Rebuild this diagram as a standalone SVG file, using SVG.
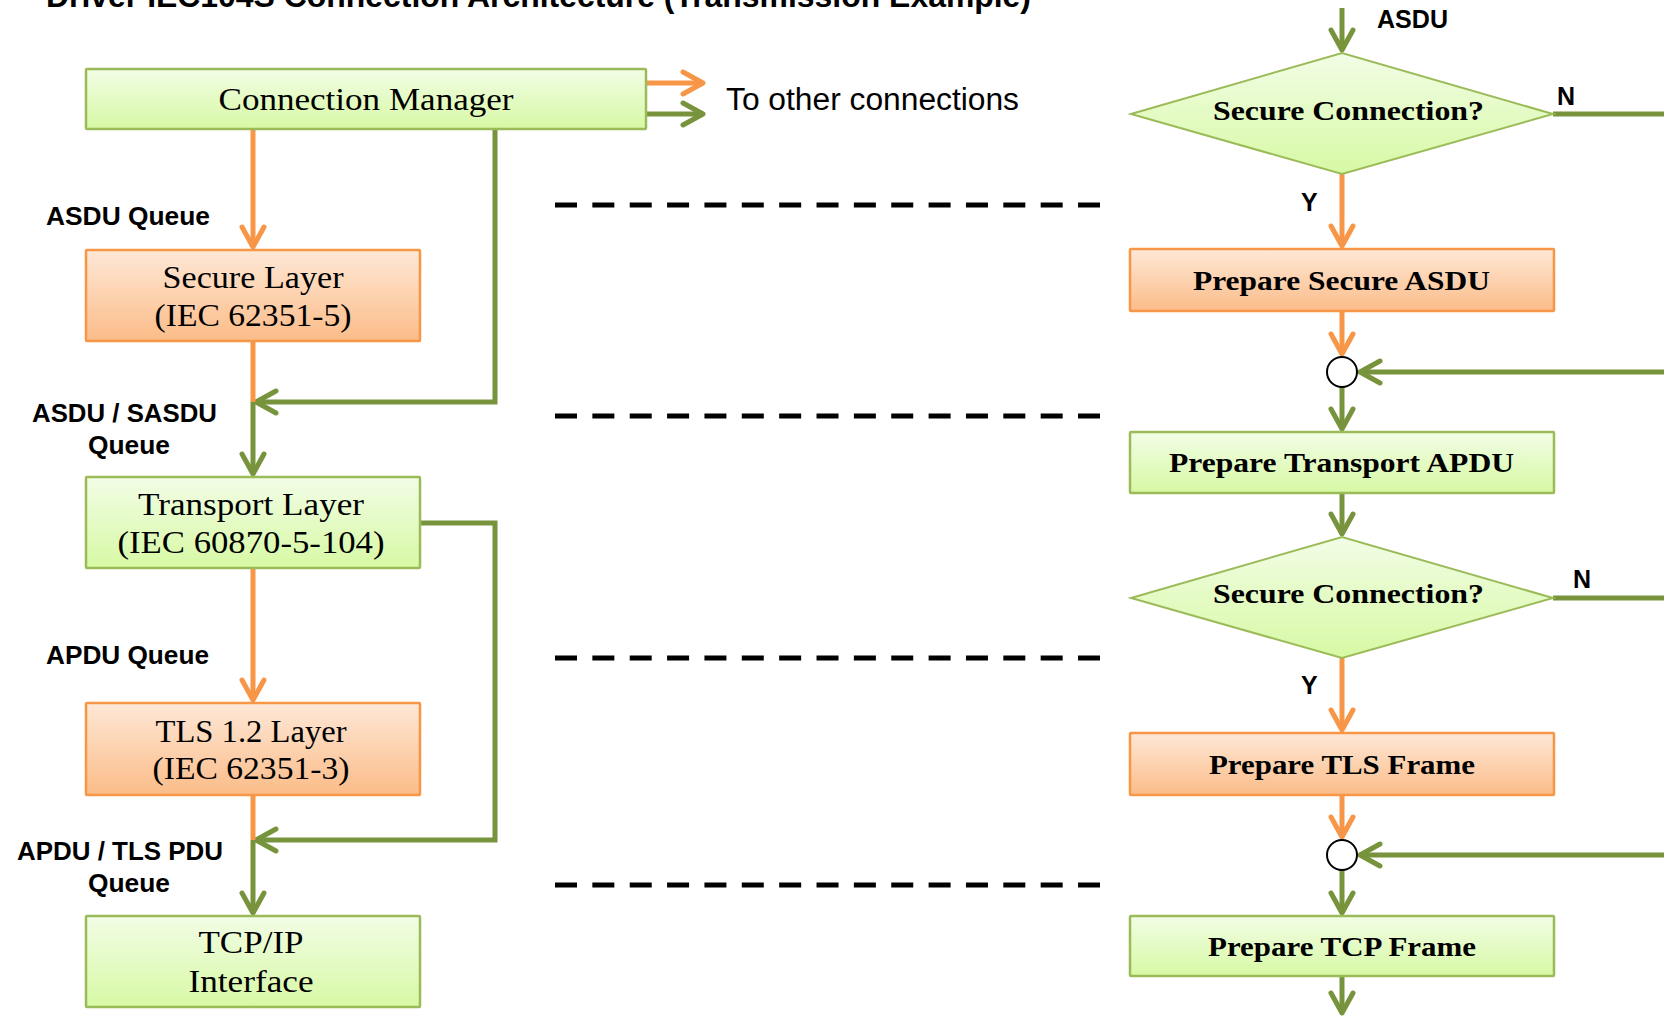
<svg xmlns="http://www.w3.org/2000/svg" width="1664" height="1016" viewBox="0 0 1664 1016">
  <defs>
    <linearGradient id="gGreen" x1="0" y1="0" x2="0" y2="1">
      <stop offset="0" stop-color="#f2fde6"/>
      <stop offset="1" stop-color="#d7f9a4"/>
    </linearGradient>
    <linearGradient id="gOrange" x1="0" y1="0" x2="0" y2="1">
      <stop offset="0" stop-color="#fee8d7"/>
      <stop offset="1" stop-color="#fbbc88"/>
    </linearGradient>
    <marker id="ahO" viewBox="-26 -16 32 32" refX="0" refY="0" markerWidth="32" markerHeight="32" markerUnits="userSpaceOnUse" orient="auto" overflow="visible">
      <path d="M-20,-11 L0,0 L-20,11" fill="none" stroke="#f79646" stroke-width="5" stroke-linecap="round" stroke-linejoin="round"/>
    </marker>
    <marker id="ahG" viewBox="-26 -16 32 32" refX="0" refY="0" markerWidth="32" markerHeight="32" markerUnits="userSpaceOnUse" orient="auto" overflow="visible">
      <path d="M-20,-11 L0,0 L-20,11" fill="none" stroke="#77933c" stroke-width="5" stroke-linecap="round" stroke-linejoin="round"/>
    </marker>
  </defs>
  <style>
    .title { font-family: "Liberation Sans", Arial, sans-serif; font-weight: bold; font-size: 32px; fill: #000; }
    .lbl { font-family: "Liberation Sans", Arial, sans-serif; font-weight: bold; font-size: 25px; fill: #000; }
    .note { font-family: "Liberation Sans", Arial, sans-serif; font-size: 31px; fill: #000; }
    .layer { font-family: "Liberation Serif", "Times New Roman", serif; font-size: 32px; fill: #000; text-anchor: middle; }
    .step { font-family: "Liberation Serif", "Times New Roman", serif; font-weight: bold; font-size: 28px; fill: #000; }
    .boxG { fill: url(#gGreen); stroke: #9bbb59; stroke-width: 2.5; }
    .boxO { fill: url(#gOrange); stroke: #f79646; stroke-width: 2.5; }
    .o { fill: none; stroke: #f79646; stroke-width: 5; stroke-linejoin: miter; }
    .g { fill: none; stroke: #77933c; stroke-width: 5; stroke-linejoin: miter; }
    .ao { marker-end: url(#ahO); }
    .ag { marker-end: url(#ahG); }
    .sep { fill: none; stroke: #000; stroke-width: 5; stroke-dasharray: 22 15.36; }
    .join { fill: #fff; stroke: #000; stroke-width: 2; }
  </style>

  <rect x="0" y="0" width="1664" height="1016" fill="#fff"/>

  <text class="title" x="46" y="7" textLength="985" lengthAdjust="spacingAndGlyphs">Driver IEC104S Connection Architecture (Transmission Example)</text>

  <!-- layer separators -->
  <g id="separators">
    <path class="sep" d="M555,205 H1100"/>
    <path class="sep" d="M555,416 H1100"/>
    <path class="sep" d="M555,658 H1100"/>
    <path class="sep" d="M555,885 H1100"/>
  </g>

  <!-- connectors -->
  <g id="connectors">
    <!-- architecture stack -->
    <path class="o ao" d="M646,83 H703"/>
    <path class="g ag" d="M646,114 H703"/>
    <path class="o ao" d="M253,129 V247"/>
    <path class="g ag" d="M495,129 V402 H256"/>
    <path class="o" d="M253,341 V402"/>
    <path class="g ag" d="M253,402 V474"/>
    <path class="g ag" d="M420,523 H495 V840 H256"/>
    <path class="o ao" d="M253,568 V700"/>
    <path class="o" d="M253,795 V840"/>
    <path class="g ag" d="M253,840 V913"/>
    <!-- transmission flow -->
    <path class="g ag" d="M1342,8 V50"/>
    <path class="g" d="M1553,114 H1664"/>
    <path class="o ao" d="M1342,174 V246"/>
    <path class="o ao" d="M1342,311 V354"/>
    <path class="g ag" d="M1664,372 H1360"/>
    <path class="g ag" d="M1342,387 V429"/>
    <path class="g ag" d="M1342,493 V534"/>
    <path class="g" d="M1553,598 H1664"/>
    <path class="o ao" d="M1342,658 V730"/>
    <path class="o ao" d="M1342,795 V837"/>
    <path class="g ag" d="M1664,855 H1360"/>
    <path class="g ag" d="M1342,870 V913"/>
    <path class="g ag" d="M1342,976 V1013"/>
  </g>

  <!-- architecture nodes -->
  <g id="connection-manager">
    <rect class="boxG" x="86" y="69" width="560" height="60" rx="1"/>
    <text class="layer" x="366" y="110" textLength="295" lengthAdjust="spacingAndGlyphs">Connection Manager</text>
  </g>
  <g id="secure-layer">
    <rect class="boxO" x="86" y="250" width="334" height="91" rx="1"/>
    <text class="layer" x="253" y="288" textLength="181" lengthAdjust="spacingAndGlyphs">Secure Layer</text>
    <text class="layer" x="253" y="326" textLength="197" lengthAdjust="spacingAndGlyphs">(IEC 62351-5)</text>
  </g>
  <g id="transport-layer">
    <rect class="boxG" x="86" y="477" width="334" height="91" rx="1"/>
    <text class="layer" x="251" y="515" textLength="226" lengthAdjust="spacingAndGlyphs">Transport Layer</text>
    <text class="layer" x="251" y="553" textLength="267" lengthAdjust="spacingAndGlyphs">(IEC 60870-5-104)</text>
  </g>
  <g id="tls-layer">
    <rect class="boxO" x="86" y="703" width="334" height="92" rx="1"/>
    <text class="layer" x="251" y="742" textLength="191" lengthAdjust="spacingAndGlyphs">TLS 1.2 Layer</text>
    <text class="layer" x="251" y="779" textLength="197" lengthAdjust="spacingAndGlyphs">(IEC 62351-3)</text>
  </g>
  <g id="tcpip-interface">
    <rect class="boxG" x="86" y="916" width="334" height="91" rx="1"/>
    <text class="layer" x="251" y="953" textLength="105" lengthAdjust="spacingAndGlyphs">TCP/IP</text>
    <text class="layer" x="251" y="992" textLength="125" lengthAdjust="spacingAndGlyphs">Interface</text>
  </g>

  <!-- queue labels -->
  <g id="queue-labels">
    <text class="lbl" x="46" y="225" textLength="164" lengthAdjust="spacingAndGlyphs">ASDU Queue</text>
    <text class="lbl" x="32" y="422" textLength="185" lengthAdjust="spacingAndGlyphs">ASDU / SASDU</text>
    <text class="lbl" x="88" y="454" textLength="82" lengthAdjust="spacingAndGlyphs">Queue</text>
    <text class="lbl" x="46" y="664" textLength="163" lengthAdjust="spacingAndGlyphs">APDU Queue</text>
    <text class="lbl" x="17" y="860" textLength="206" lengthAdjust="spacingAndGlyphs">APDU / TLS PDU</text>
    <text class="lbl" x="88" y="892" textLength="82" lengthAdjust="spacingAndGlyphs">Queue</text>
    <text class="note" x="726" y="110" textLength="293" lengthAdjust="spacingAndGlyphs">To other connections</text>
  </g>

  <!-- transmission flow nodes -->
  <g id="decision-secure-1">
    <polygon class="boxG" style="stroke-width:2" points="1131,114 1342,53 1553,114 1342,174"/>
    <text class="step" x="1213" y="120" textLength="271" lengthAdjust="spacingAndGlyphs">Secure Connection?</text>
  </g>
  <g id="prepare-secure-asdu">
    <rect class="boxO" x="1130" y="249" width="424" height="62" rx="1"/>
    <text class="step" x="1193" y="290" textLength="297" lengthAdjust="spacingAndGlyphs">Prepare Secure ASDU</text>
  </g>
  <g id="merge-1">
    <circle class="join" cx="1342" cy="372" r="15"/>
  </g>
  <g id="prepare-transport-apdu">
    <rect class="boxG" x="1130" y="432" width="424" height="61" rx="1"/>
    <text class="step" x="1169" y="472" textLength="345" lengthAdjust="spacingAndGlyphs">Prepare Transport APDU</text>
  </g>
  <g id="decision-secure-2">
    <polygon class="boxG" style="stroke-width:2" points="1131,598 1342,537 1553,598 1342,658"/>
    <text class="step" x="1213" y="603" textLength="271" lengthAdjust="spacingAndGlyphs">Secure Connection?</text>
  </g>
  <g id="prepare-tls-frame">
    <rect class="boxO" x="1130" y="733" width="424" height="62" rx="1"/>
    <text class="step" x="1209" y="774" textLength="266" lengthAdjust="spacingAndGlyphs">Prepare TLS Frame</text>
  </g>
  <g id="merge-2">
    <circle class="join" cx="1342" cy="855" r="15"/>
  </g>
  <g id="prepare-tcp-frame">
    <rect class="boxG" x="1130" y="916" width="424" height="60" rx="1"/>
    <text class="step" x="1208" y="956" textLength="268" lengthAdjust="spacingAndGlyphs">Prepare TCP Frame</text>
  </g>

  <!-- flow labels -->
  <g id="flow-labels">
    <text class="lbl" x="1377" y="28" textLength="71" lengthAdjust="spacingAndGlyphs">ASDU</text>
    <text class="lbl" x="1557" y="105">N</text>
    <text class="lbl" x="1301" y="211">Y</text>
    <text class="lbl" x="1573" y="588">N</text>
    <text class="lbl" x="1301" y="694">Y</text>
  </g>
</svg>
